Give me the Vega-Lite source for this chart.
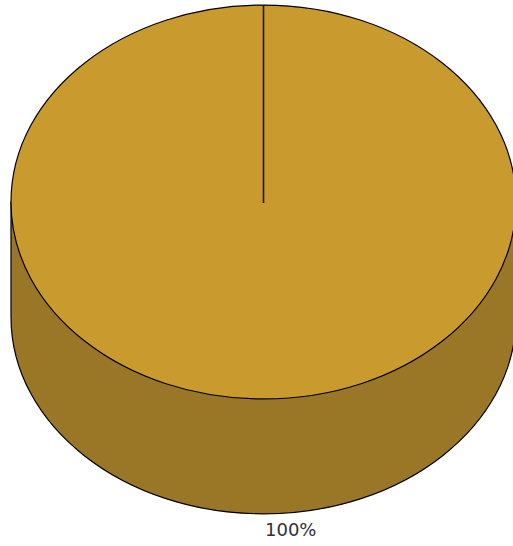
{
  "$schema": "https://vega.github.io/schema/vega-lite/v6.json",
  "width": 500,
  "height": 404,
  "autosize": {"type": "none"},
  "padding": {"left": 13.5, "top": 0, "right": 0, "bottom": 142},
  "background": "white",
  "config": {"view": {"stroke": null}},
  "data": {"values": [{"category": "Total", "value": 100, "label": "100%"}]},
  "layer": [
    {
      "mark": {
        "type": "point",
        "filled": true,
        "opacity": 1,
        "size": 255025,
        "fill": "#9A7627",
        "stroke": "#000000",
        "strokeWidth": 1.2,
        "shape": "M -1 0 L -1 0.455 C -1 0.886 -0.5523 1.235 0 1.235 C 0.5523 1.235 1 0.886 1 0.455 L 1 0 Z"
      },
      "encoding": {}
    },
    {
      "mark": {
        "type": "point",
        "filled": true,
        "opacity": 1,
        "size": 255025,
        "stroke": "#000000",
        "strokeWidth": 1.2,
        "shape": "M -1 0 C -1 -0.4308 -0.5523 -0.78 0 -0.78 C 0.5523 -0.78 1 -0.4308 1 0 C 1 0.4308 0.5523 0.78 0 0.78 C -0.5523 0.78 -1 0.4308 -1 0 Z"
      },
      "encoding": {
        "color": {"field": "category", "type": "nominal", "scale": {"range": ["#C99B2F"]}, "legend": null}
      }
    },
    {
      "mark": {
        "type": "point",
        "filled": false,
        "opacity": 1,
        "size": 255025,
        "fill": null,
        "stroke": "#1a1208",
        "strokeWidth": 1.6,
        "shape": "M 0 0.004 L 0 -0.78"
      },
      "encoding": {}
    },
    {
      "mark": {
        "type": "text",
        "radius": 329,
        "align": "left",
        "baseline": "middle",
        "dx": 1.5,
        "font": "DejaVu Sans",
        "fontSize": 18,
        "color": "#2e2e3a"
      },
      "encoding": {
        "theta": {"field": "value", "type": "quantitative", "stack": true},
        "text": {"field": "label", "type": "nominal"}
      }
    }
  ]
}
